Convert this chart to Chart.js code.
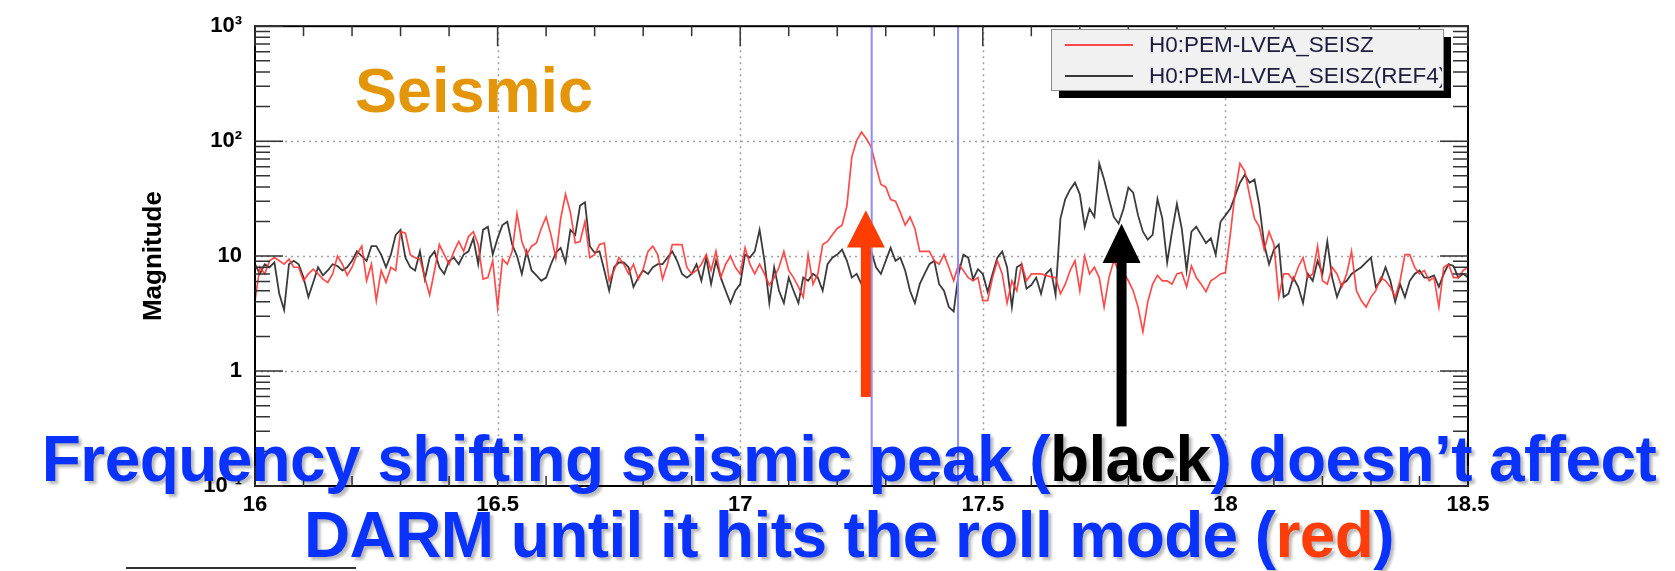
<!DOCTYPE html>
<html lang="en">
<head>
    <meta charset="UTF-8">
    <title>Seismic - H0:PEM-LVEA_SEISZ</title>
    <script src="https://cdn.jsdelivr.net/npm/chart.js"></script>
    <style>
        body { margin: 0; background: #fff; }
        #wrap { position: relative; width: 1675px; height: 571px; overflow: hidden;
                font-family: "Liberation Sans", Arial, Helvetica, sans-serif; }
        #myChart { position: absolute; left: 0; top: 0; }
        .seismic { position: absolute; left: 355px; top: 59px; font-size: 63px; line-height: 63px;
                   font-weight: bold; color: #E3960A; white-space: nowrap; }
        .caption { position: absolute; left: 0; width: 1698px; text-align: center; font-size: 64px;
                   line-height: 64px; font-weight: bold; letter-spacing: -0.6px; color: #0A32FF;
                   white-space: nowrap; text-shadow: 3px 3px 3px rgba(0,0,0,0.28); }
        .caption .blk { color: #000; }
        .caption .red { color: #FF3D0A; }
        .rule { position: absolute; left: 126px; top: 567px; width: 230px; height: 2px; background: #333; }
    </style>
</head>
<body>
<div id="wrap">
    <canvas id="myChart" width="1675" height="571"></canvas>
    <div class="seismic">Seismic</div>
    <div class="caption" style="top:427px">Frequency shifting seismic peak (<span class="blk">black</span>) doesn’t affect</div>
    <div class="caption" style="top:503px">DARM until it hits the roll mode (<span class="red">red</span>)</div>
    <div class="rule"></div>
</div>
<script>
    // frequency grid (Hz), 0.01 Hz bins from 16.00 to 18.50
    const freqStart = 16.0;
    const freqStep = 0.01;

    // H0:PEM-LVEA_SEISZ (red), magnitude per bin
    const seiszNow = [
        4.1, 8.0, 7.0, 9.1, 9.7, 9.1, 8.5, 9.4, 8.0, 8.0,
        6.1, 7.0, 7.7, 7.0, 6.3, 5.9, 7.0, 10.0, 8.5, 6.8,
        8.0, 10.3, 12.2, 6.1, 8.5, 4.1, 7.5, 5.9, 8.0, 7.5,
        16.3, 15.8, 10.3, 9.7, 9.4, 6.5, 4.6, 7.5, 12.6, 10.3,
        8.5, 11.0, 13.4, 11.0, 14.8, 16.3, 12.6, 6.3, 6.5, 9.1,
        3.6, 9.4, 8.5, 11.0, 23.4, 13.4, 10.3, 12.2, 13.0, 17.4,
        21.9, 15.3, 9.7, 21.2, 34.5, 24.1, 13.0, 13.4, 19.9, 9.7,
        10.3, 12.6, 13.0, 6.1, 7.5, 9.7, 8.5, 7.0, 8.5, 6.3,
        7.7, 11.0, 12.2, 10.3, 6.3, 8.5, 12.6, 12.6, 12.6, 8.0,
        7.0, 7.5, 8.5, 10.3, 7.5,
        11.0, 6.5, 8.5, 10.0, 8.0, 7.0, 11.8, 8.5, 7.0, 8.5, 7.0, 5.6,
        6.5, 8.0, 11.0, 7.5, 6.5, 5.4, 4.4, 10.3, 5.7, 7.0,
        12.6, 13.4, 15.3, 17.4, 18.6, 27.5, 73, 101, 120, 105,
        89, 60, 42, 40, 31, 30, 24, 18.6, 21.9, 17.4,
        11.0, 11.0, 11.0, 9.1, 8.5, 10.3, 8.0, 6.1, 8.5, 7.5,
        6.5, 6.1, 6.5, 4.1, 4.1, 6.5, 9.1, 7.0, 3.9, 6.1,
        5.0, 8.5, 6.1, 7.0,
        7.0, 7.0, 6.8, 6.6, 6.5, 4.7, 5.7, 7.5, 9.1, 5.0,
        10.0, 7.0, 8.0, 6.5, 3.6, 6.5, 9.1, 7.5, 7.2, 6.1,
        5.0, 3.6, 2.2, 4.0, 5.7, 6.8, 6.1, 6.1, 5.7, 7.0,
        7.2, 5.4, 8.2, 6.5, 5.7, 4.9, 6.1, 6.5, 7.0, 7.2,
        15.3, 35.7, 64, 54.6, 33.5, 21.2, 18.0, 11.4, 16.3, 12.6,
        4.4, 7.0, 7.0, 6.1, 8.0, 9.7, 6.5, 7.0, 12.2, 6.1,
        5.7, 8.0, 7.0, 5.4, 7.0, 11.0, 5.0, 4.1, 3.6, 4.4,
        5.0, 6.5, 6.1, 5.4, 4.4, 6.1, 10.3, 10.3, 8.0, 7.0,
        7.5, 6.1, 6.5, 3.6, 8.0, 8.5, 6.5, 6.5, 7.5, 8.0
    ];

    // H0:PEM-LVEA_SEISZ(REF4) (black), magnitude per bin
    const seiszRef = [
        8.5, 7.0, 8.5, 8.0, 8.8, 4.7, 3.4, 8.5, 9.1, 8.5,
        6.5, 4.4, 5.9, 8.0, 6.8, 7.5, 8.5, 8.2, 7.5, 8.0,
        9.1, 11.0, 10.0, 9.1, 12.2, 12.2, 10.3, 8.0, 10.3, 15.3,
        16.9, 9.7, 8.0, 7.5, 11.0, 6.3, 9.7, 11.0, 8.0, 7.0,
        9.1, 9.7, 8.5, 10.3, 11.0, 14.3, 8.5, 16.9, 18.0, 10.3,
        14.3, 18.6, 19.9, 12.6, 10.0, 7.0, 11.0, 7.5, 6.8, 6.1,
        6.5, 8.5, 10.7, 11.8, 8.8, 16.9, 15.3, 27.5, 29.4, 12.2,
        10.7, 11.0, 7.5, 5.0, 8.0, 8.8, 8.8, 8.0, 5.4, 6.5,
        7.5, 7.0, 8.0, 8.5, 8.5, 9.7, 11.0, 9.1, 7.0, 6.5,
        7.0, 8.5, 6.1, 9.7, 5.7,
        9.1, 6.5, 5.0, 3.9, 5.0, 5.7, 10.3, 9.7, 11.0, 16.9, 9.1, 3.9,
        8.0, 5.0, 3.9, 6.5, 5.0, 3.9, 6.5, 6.1, 7.0, 6.5,
        5.0, 8.5, 9.7, 10.3, 11.4, 9.1, 6.5, 7.0, 5.7, 9.1,
        11.0, 8.0, 7.0, 9.1, 11.8, 9.1, 9.7, 7.5, 5.0, 3.9,
        5.7, 7.0, 8.5, 9.1, 5.7, 5.0,
        3.6, 3.3, 7.0, 10.3, 9.7, 6.3, 7.7, 7.0, 4.9, 7.0,
        9.7, 11.0, 8.0, 3.6, 8.0, 8.5, 5.2, 5.6, 6.5, 4.7,
        7.0, 7.7, 4.6, 21.2, 31.4, 38, 43.5, 34.5, 18.0, 25.8,
        21.9, 64, 46.4, 31.4, 21.9, 19.2, 25.8, 39.4, 35.7, 22.6,
        16.3, 13.9, 15.3, 31.4, 21.2, 8.8, 16.3, 28.4, 17.4, 7.5,
        16.3, 18.0, 15.3, 13.0, 14.3, 10.3, 19.9, 22.6, 25.8, 33.5,
        43.5, 51, 43.5, 46.4, 27.5, 12.6, 8.5, 11.4, 12.6, 4.4,
        4.7, 6.5, 5.4, 3.9, 7.0, 6.1, 9.1, 7.0, 13.4, 6.5,
        4.4, 5.7, 6.1, 7.0, 7.5, 8.0, 8.8, 9.7, 5.4, 6.1,
        8.0, 6.1, 4.0, 5.7, 4.4, 6.1, 7.0, 7.5, 6.5, 6.5,
        6.8, 5.4, 7.0, 8.5, 8.2, 6.5, 7.0, 6.5
    ];

    const seriesLabels = ['H0:PEM-LVEA_SEISZ', 'H0:PEM-LVEA_SEISZ(REF4)'];
    const xTicks = [16, 16.5, 17, 17.5, 18, 18.5];
    const xTickLabels = ['16', '16.5', '17', '17.5', '18', '18.5'];
    const yTicks = [0.1, 1, 10, 100, 1000];
    const yTickLabels = ['10⁻¹', '1', '10', '10²', '10³'];

    // cursor lines and the two arrows, in data units
    const cursorFreqs = [17.271, 17.449];
    const arrows = [
        { freq: 17.259, tip: 25.1, headBase: 11.9, tail: 0.595, color: '#FF3D00' },
        { freq: 17.786, tip: 19.1, headBase: 8.7, tail: 0.33, color: '#000000' }
    ];

    const toPoints = vals => vals.map((v, i) => ({ x: +(freqStart + i * freqStep).toFixed(2), y: v }));

    // ROOT-style frame: dotted grid, inward ticks, cursors, arrows, boxed legend
    const rootFrame = {
        id: 'rootFrame',
        beforeDatasetsDraw(chart) {
            const { ctx, chartArea: a, scales: { x, y } } = chart;
            ctx.save();
            ctx.strokeStyle = '#a0a0a0';
            ctx.lineWidth = 1.5;
            ctx.setLineDash([2, 4]);
            ctx.beginPath();
            xTicks.slice(1, -1).forEach(v => {
                const px = Math.round(x.getPixelForValue(v)) + 0.5;
                ctx.moveTo(px, a.top); ctx.lineTo(px, a.bottom);
            });
            yTicks.slice(1, -1).forEach(v => {
                const py = Math.round(y.getPixelForValue(v)) + 0.5;
                ctx.moveTo(a.left, py); ctx.lineTo(a.right, py);
            });
            ctx.stroke();
            ctx.restore();
        },
        afterDatasetsDraw(chart) {
            const { ctx, chartArea: a, scales: { x, y } } = chart;
            ctx.save();

            // cursors
            ctx.strokeStyle = '#8C8CFF';
            ctx.lineWidth = 2;
            ctx.beginPath();
            cursorFreqs.forEach(f => {
                const px = x.getPixelForValue(f);
                ctx.moveTo(px, a.top); ctx.lineTo(px, a.bottom);
            });
            ctx.stroke();

            // arrows
            arrows.forEach(ar => {
                const px = x.getPixelForValue(ar.freq);
                const yTip = y.getPixelForValue(ar.tip);
                const yHead = y.getPixelForValue(ar.headBase);
                const yTail = y.getPixelForValue(ar.tail);
                ctx.fillStyle = ar.color;
                ctx.fillRect(px - 5, yHead - 1, 10, yTail - yHead + 1);
                ctx.beginPath();
                ctx.moveTo(px - 19, yHead);
                ctx.lineTo(px + 19, yHead);
                ctx.lineTo(px, yTip);
                ctx.closePath();
                ctx.fill();
            });

            // frame
            ctx.strokeStyle = '#000';
            ctx.lineWidth = 2;
            ctx.strokeRect(a.left, a.top, a.right - a.left, a.bottom - a.top);

            // inward ticks
            ctx.lineWidth = 1.5;
            ctx.strokeStyle = '#333';
            ctx.beginPath();
            for (let k = 160; k <= 185; k++) {
                const px = x.getPixelForValue(k / 10);
                const len = k % 5 === 0 ? 20 : 10;
                ctx.moveTo(px, a.bottom); ctx.lineTo(px, a.bottom - len);
                ctx.moveTo(px, a.top); ctx.lineTo(px, a.top + len);
            }
            for (let d = -1; d <= 2; d++) {
                for (let m = 1; m <= 9; m++) {
                    const py = y.getPixelForValue(m * Math.pow(10, d));
                    const len = m === 1 ? 28 : 15;
                    ctx.moveTo(a.left, py); ctx.lineTo(a.left + len, py);
                    ctx.moveTo(a.right, py); ctx.lineTo(a.right - len, py);
                }
            }
            const pyTop = y.getPixelForValue(1000);
            ctx.moveTo(a.left, pyTop); ctx.lineTo(a.left + 28, pyTop);
            ctx.moveTo(a.right, pyTop); ctx.lineTo(a.right - 28, pyTop);
            ctx.stroke();

            // legend box with drop shadow
            const lx = 1051, ly = 29, lw = 392, lh = 61;
            ctx.fillStyle = '#000';
            ctx.fillRect(lx + 8, ly + 8, lw, lh);
            ctx.fillStyle = '#f1f1f1';
            ctx.fillRect(lx, ly, lw, lh);
            ctx.strokeStyle = '#8a8a8a';
            ctx.lineWidth = 1;
            ctx.strokeRect(lx + 0.5, ly + 0.5, lw, lh);
            ctx.save();
            ctx.beginPath();
            ctx.rect(lx, ly, lw - 1, lh);
            ctx.clip();
            ctx.font = '22.5px "Liberation Sans", Arial, sans-serif';
            ctx.textBaseline = 'middle';
            chart.data.datasets.forEach((ds, i) => {
                const ry = ly + 16 + i * 31;
                ctx.strokeStyle = ds.borderColor;
                ctx.lineWidth = 2;
                ctx.beginPath();
                ctx.moveTo(lx + 14, ry); ctx.lineTo(lx + 82, ry);
                ctx.stroke();
                ctx.fillStyle = '#1c1c3c';
                ctx.fillText(ds.label, lx + 98, ry + 1);
            });
            ctx.restore();

            ctx.restore();
        }
    };

    const ctx = document.getElementById('myChart').getContext('2d');
    const myChart = new Chart(ctx, {
        type: 'line',
        data: {
            datasets: [{
                label: seriesLabels[0],
                data: toPoints(seiszNow),
                borderColor: 'rgba(255,50,50,0.88)',
                borderWidth: 1.7,
                pointRadius: 0,
                tension: 0
            }, {
                label: seriesLabels[1],
                data: toPoints(seiszRef),
                borderColor: 'rgba(25,25,25,0.85)',
                borderWidth: 1.8,
                pointRadius: 0,
                tension: 0
            }]
        },
        options: {
            responsive: false,
            animation: false,
            devicePixelRatio: 1,
            layout: { padding: { left: 0, right: 207, top: 16, bottom: 0 } },
            plugins: { legend: { display: false }, tooltip: { enabled: false } },
            scales: {
                x: {
                    type: 'linear',
                    min: 16,
                    max: 18.5,
                    afterBuildTicks: s => { s.ticks = xTicks.map(v => ({ value: v })); },
                    afterFit: s => { s.height = 85; },
                    grid: { display: false, drawTicks: false },
                    border: { display: false },
                    ticks: {
                        padding: 6,
                        color: '#000',
                        maxRotation: 0,
                        autoSkip: false,
                        font: { family: '"Liberation Sans", Arial, sans-serif', size: 22, weight: 'bold' },
                        callback: (v, i) => xTickLabels[i]
                    }
                },
                y: {
                    type: 'logarithmic',
                    min: 0.1,
                    max: 1000,
                    afterBuildTicks: s => { s.ticks = yTicks.map(v => ({ value: v })); },
                    afterFit: s => { s.width = 255; },
                    grid: { display: false, drawTicks: false },
                    border: { display: false },
                    title: {
                        display: true,
                        text: 'Magnitude',
                        color: '#000',
                        padding: { top: 138, bottom: 0 },
                        font: { family: '"Liberation Sans", Arial, sans-serif', size: 26, weight: 'bold' }
                    },
                    ticks: {
                        padding: 13,
                        color: '#000',
                        autoSkip: false,
                        font: { family: '"Liberation Sans", Arial, sans-serif', size: 22, weight: 'bold' },
                        callback: (v, i) => yTickLabels[i]
                    }
                }
            }
        },
        plugins: [rootFrame]
    });
</script>
</body>
</html>
